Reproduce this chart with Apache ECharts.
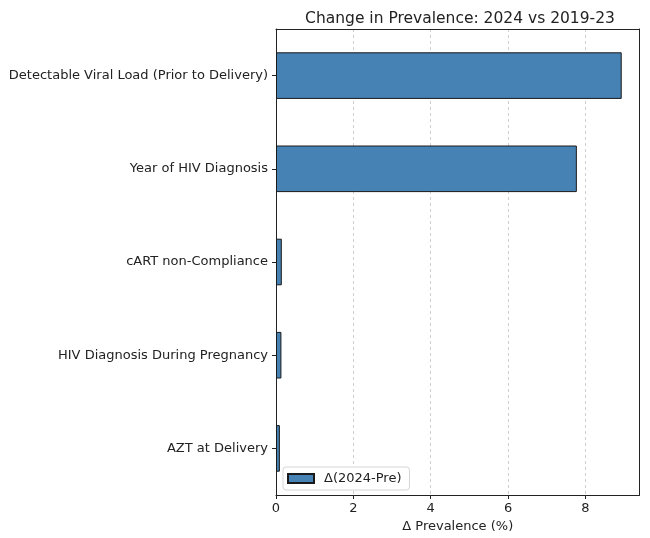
<!DOCTYPE html>
<html>
<head>
<meta charset="utf-8">
<script src="https://cdn.jsdelivr.net/npm/echarts@6/dist/echarts.min.js"></script>
<style>
  html, body { margin: 0; padding: 0; background: #fff; }
  #chart { width: 650px; height: 538px; }
</style>
</head>
<body>
<div id="chart"></div>
<script>
// categories, top to bottom
var categories = [
  'Detectable Viral Load (Prior to Delivery)',
  'Year of HIV Diagnosis',
  'cART non-Compliance',
  'HIV Diagnosis During Pregnancy',
  'AZT at Delivery'
];
// change in prevalence, percentage points
var deltaValues = [8.94, 7.78, 0.15, 0.14, 0.1];
var xTicks = [0, 2, 4, 6, 8];
var seriesName = '\u0394(2024-Pre)';

var myChart = echarts.init(document.getElementById('chart'), null, { renderer: 'canvas' });

var font = 'DejaVu Sans';
var ink = '#222';
var xMax = 9.4;

var option = {
  animation: false,
  title: {
    text: 'Change in Prevalence: 2024 vs 2019-23',
    left: 455,
    top: 6,
    textAlign: 'center',
    textStyle: { fontFamily: font, fontSize: 15.5, fontWeight: 'normal', color: ink }
  },
  legend: {
    data: [{ name: seriesName, icon: 'rect' }],
    left: 283,
    top: 467,
    orient: 'vertical',
    padding: [5, 8, 5, 4],
    itemWidth: 26,
    itemHeight: 9,
    backgroundColor: '#fff',
    borderColor: '#d5d5d5',
    borderWidth: 1,
    borderRadius: 3,
    textStyle: { fontFamily: font, fontSize: 13, color: ink, padding: [0, 0, 0, 5] }
  },
  grid: {
    left: 276,
    right: 10.5,
    top: 29,
    bottom: 41,
    containLabel: false
  },
  xAxis: [{
    type: 'value',
    min: 0,
    max: xMax,
    interval: 2,
    name: '\u0394 Prevalence (%)',
    nameLocation: 'middle',
    nameGap: 25,
    nameTextStyle: { fontFamily: font, fontSize: 13, color: ink },
    axisLine: { show: true, onZero: false, lineStyle: { color: ink } },
    axisTick: { show: true, length: 4, lineStyle: { color: ink } },
    axisLabel: {
      fontFamily: font, fontSize: 13, color: ink, margin: 7,
      showMaxLabel: false,
      formatter: function (v) { return xTicks.indexOf(v) >= 0 ? String(v) : ''; }
    },
    splitLine: { show: true, lineStyle: { color: '#cfcfcf', type: [3, 3], width: 1 } }
  }, {
    // top frame line
    type: 'value',
    position: 'top',
    min: 0,
    max: xMax,
    axisLine: { show: true, onZero: false, lineStyle: { color: ink } },
    axisTick: { show: false },
    axisLabel: { show: false },
    splitLine: { show: false }
  }],
  yAxis: [{
    type: 'category',
    data: categories,
    inverse: true,
    axisLine: { show: true, onZero: false, lineStyle: { color: ink } },
    axisTick: { show: true, alignWithLabel: true, length: 4, lineStyle: { color: ink } },
    axisLabel: { fontFamily: font, fontSize: 13, color: ink, margin: 8 },
    splitLine: { show: false }
  }, {
    // right frame line
    type: 'category',
    data: categories,
    inverse: true,
    position: 'right',
    axisLine: { show: true, onZero: false, lineStyle: { color: ink } },
    axisTick: { show: false },
    axisLabel: { show: false },
    splitLine: { show: false }
  }],
  series: [{
    name: seriesName,
    type: 'bar',
    xAxisIndex: 0,
    yAxisIndex: 0,
    data: deltaValues,
    barCategoryGap: '50%',
    itemStyle: { color: '#4682B4', borderColor: '#1a1a1a', borderWidth: 1 }
  }]
};

myChart.setOption(option);
window.addEventListener('resize', myChart.resize);
</script>
</body>
</html>
